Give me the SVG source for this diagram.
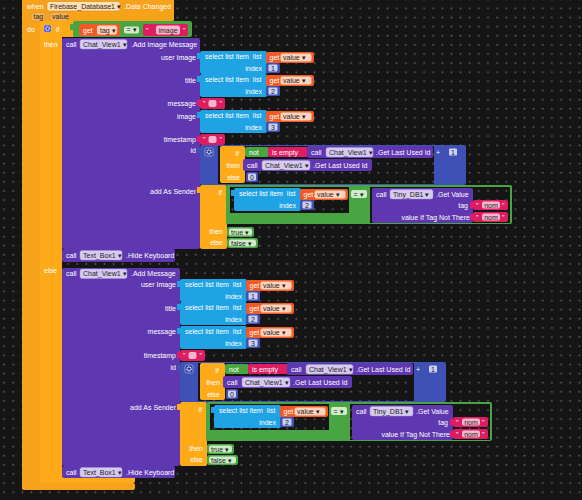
<svg xmlns="http://www.w3.org/2000/svg" width="582" height="500" viewBox="0 0 582 500">
<style>
.t{font-family:"Liberation Sans",Arial,sans-serif;font-size:7px;fill:#fff;white-space:pre}
.dk{fill:#1e1e1e}
.e{text-anchor:end}
.m{text-anchor:middle}
.ev{fill:#F7A21B}
.ctl{fill:#FFAB19}
.pr{fill:#5F37B0}
.ls{fill:#1FA3E4}
.gv{fill:#F15A24}
.nb{fill:#3F51B5}
.tx{fill:#DC1D62}
.lg{fill:#49A541}
.pl{fill:#D6CBEF;stroke:#A893D8;stroke-width:.5}
.pg{fill:#FFD3BF;stroke:#F79A70;stroke-width:.5}
.nl{fill:#CCD1F2}
.pt{fill:#F7B6CD}
.pgr{fill:#CFEBC9}
.po{fill:#FFE0B3;stroke:#C98312;stroke-width:.5}
.pp{fill:#F2B45A;stroke:#D98A10;stroke-width:.5}
</style>
<defs>
<pattern id="g0" width="9.13" height="9.13" patternUnits="userSpaceOnUse" x="0" y="4"><rect width="9.13" height="9.13" fill="#151515"/><circle cx="4.1" cy="4.3" r="0.9" fill="#636363"/></pattern>
<pattern id="gA" width="9.13" height="9.13" patternUnits="userSpaceOnUse" x="-200" y="-141"><rect width="9.13" height="9.13" fill="#151515"/><circle cx="4.1" cy="4.3" r="0.9" fill="#636363"/></pattern>
<pattern id="gB" width="9.13" height="9.13" patternUnits="userSpaceOnUse" x="-180" y="-358"><rect width="9.13" height="9.13" fill="#151515"/><circle cx="4.1" cy="4.3" r="0.9" fill="#636363"/></pattern>
<g id="sel">
<rect x="-3" y="2" width="4" height="6" class="ls"/>
<rect x="0" y="0" width="67" height="23" rx="2" class="ls"/>
<text class="t" x="5" y="8">select list item  list</text>
<text class="t e" x="62" y="19.5">index</text>
<rect x="66" y="1" width="48" height="11" rx="2" class="gv"/>
<text class="t" x="69.5" y="9">get</text>
<rect x="80.5" y="2.5" width="31" height="8" rx="2" class="pg"/>
<text class="t dk" x="83" y="9">value ▾</text>
<rect x="66" y="12" width="14" height="10" rx="1.5" class="nb"/>
<rect x="68.5" y="13.5" width="9" height="7" rx="1" class="nl"/>
</g>
<g id="txt">
<rect x="-3" y="2" width="4" height="6" class="tx"/>
<rect x="0" y="0" width="25" height="11" rx="2" class="tx"/>
<text class="t" x="3" y="8">"</text>
<rect x="8.5" y="2" width="8" height="7" rx="2" class="pt"/>
<text class="t" x="19.5" y="8">"</text>
</g>
<g id="nom">
<rect x="-3" y="2" width="4" height="6" class="tx"/>
<rect x="0" y="0" width="35" height="10" rx="2" class="tx"/>
<text class="t" x="3" y="7.5">"</text>
<rect x="9" y="1.5" width="18" height="7" rx="2" class="pt"/>
<text class="t dk m" x="18" y="7.5">nom</text>
<text class="t" x="29" y="7.5">"</text>
</g>
<g id="tf">
<rect x="27" y="82" width="27" height="10" rx="2" class="lg"/>
<rect x="29" y="83.5" width="23" height="7" rx="2" class="pgr"/>
<text class="t dk" x="31" y="89.5">true ▾</text>
<rect x="27" y="93" width="31" height="10" rx="2" class="lg"/>
<rect x="29" y="94.5" width="27" height="7" rx="2" class="pgr"/>
<text class="t dk" x="31" y="100.5">false ▾</text>
</g>
</defs>

<rect width="582" height="500" fill="url(#g0)"/>

<g id="event-data-changed">
<rect x="22" y="-4" width="152" height="26" rx="3" class="ev"/>
<rect x="22" y="0" width="18" height="489" class="ev"/>
<rect x="22" y="483" width="113" height="7" rx="2" class="ev"/>
<text class="t" x="27" y="8.5">when</text>
<rect x="47" y="1.5" width="73" height="9.5" rx="2" class="po"/>
<text class="t dk" x="50" y="8.5">Firebase_Database1 ▾</text>
<text class="t" x="124" y="8.5">.Data Changed</text>
<rect x="31" y="12.5" width="14" height="8.5" rx="2" class="pp"/>
<text class="t dk" x="33.5" y="19">tag</text>
<rect x="50" y="12.5" width="18" height="8.5" rx="2" class="pp"/>
<text class="t dk" x="52" y="19">value</text>
<text class="t" x="27" y="31.5">do</text>
</g>

<g id="if-else-main">
<rect x="40" y="21" width="35" height="16" rx="2" class="ctl"/>
<rect x="40" y="21" width="22" height="462" class="ctl"/>
<rect x="40" y="476" width="95" height="7" rx="2" class="ctl"/>
<rect x="44" y="25" width="7" height="7" rx="1.5" fill="#3B4CC0" stroke="#B3BCFF" stroke-width=".6"/>
<circle cx="47.5" cy="28.5" r="1.8" fill="none" stroke="#fff" stroke-width="1.2" stroke-dasharray="1 .5"/>
<text class="t" x="56" y="31.5">if</text>
<text class="t" x="44" y="46.5">then</text>
<text class="t" x="44" y="272.5">else</text>
</g>

<g id="compare-tag-image">
<rect x="70" y="24" width="4" height="6" class="lg"/>
<rect x="73" y="21" width="119" height="16" rx="2" class="lg"/>
<rect x="79" y="24" width="41" height="12" rx="2" class="gv"/>
<text class="t" x="83" y="32.5">get</text>
<rect x="97" y="25.5" width="20" height="9" rx="2" class="pg"/>
<text class="t dk" x="100" y="32.5">tag ▾</text>
<rect x="124" y="26.5" width="15" height="7" rx="2" class="pgr"/>
<text class="t dk" x="126.5" y="32">= ▾</text>
<rect x="143" y="24" width="45" height="12" rx="2" class="tx"/>
<text class="t" x="146" y="32.5">"</text>
<rect x="156" y="25.5" width="24" height="9" rx="2" class="pt"/>
<text class="t dk m" x="168" y="32.5">image</text>
<text class="t" x="183" y="32.5">"</text>
</g>

<g id="call-add-image-message">
<rect x="62" y="38" width="138" height="211" rx="2" class="pr"/>
<text class="t" x="66" y="46.5">call</text>
<rect x="80" y="39.5" width="47" height="9.5" rx="2" class="pl"/>
<text class="t dk" x="83" y="46.5">Chat_View1 ▾</text>
<text class="t" x="131" y="46.5">.Add Image Message</text>
<text class="t e" x="196" y="59.5">user Image</text>
<text class="t e" x="196" y="82.5">title</text>
<text class="t e" x="196" y="106">message</text>
<text class="t e" x="196" y="118.5">image</text>
<text class="t e" x="196" y="141.5">timestamp</text>
<text class="t e" x="196" y="153">id</text>
<text class="t e" x="196" y="194">add As Sender</text>
<use href="#sel" x="200" y="51"/>
<text class="t dk m" x="273" y="70.5">1</text>
<use href="#sel" x="200" y="74"/>
<text class="t dk m" x="273" y="93.5">2</text>
<use href="#txt" x="200" y="98"/>
<use href="#sel" x="200" y="110"/>
<text class="t dk m" x="273" y="129.5">3</text>
<use href="#txt" x="200" y="134"/>
</g>

<g id="id-and-sender-1" transform="translate(200,145)">
<rect x="-3" y="3" width="4" height="6" class="nb"/>
<rect x="0" y="0" width="266" height="40" rx="2" class="nb"/>
<rect x="18" y="1" width="216" height="38" fill="url(#gA)"/>
<rect x="5" y="3" width="8" height="8" rx="1.5" fill="#2E3D9C" stroke="#A9B4FF" stroke-width=".7"/>
<circle cx="9" cy="7" r="2" fill="none" stroke="#fff" stroke-width="1.3" stroke-dasharray="1 .57"/>
<rect x="20" y="1" width="25" height="37" rx="2" class="ctl"/>
<text class="t e" x="39" y="10.5">if</text>
<text class="t e" x="40" y="22.5">then</text>
<text class="t e" x="40" y="34.5">else</text>
<rect x="45" y="2" width="24" height="10" rx="2" class="lg"/>
<text class="t" x="49" y="9.5">not</text>
<rect x="68" y="2" width="40" height="10" rx="2" class="tx"/>
<text class="t" x="72" y="9.5">is empty</text>
<rect x="107" y="1" width="126" height="12" rx="2" class="pr"/>
<text class="t" x="111" y="9.5">call</text>
<rect x="126" y="2.5" width="47" height="9.5" rx="2" class="pl"/>
<text class="t dk" x="129" y="9.5">Chat_View1 ▾</text>
<text class="t" x="176" y="9.5">.Get Last Used Id</text>
<text class="t m" x="238" y="9.5">+</text>
<rect x="247" y="2" width="12" height="10" rx="1.5" class="nb"/>
<rect x="249" y="3.5" width="8" height="7" rx="1" class="nl"/>
<text class="t dk m" x="253" y="9.5">1</text>
<rect x="43" y="14" width="129" height="12" rx="2" class="pr"/>
<text class="t" x="47" y="22.5">call</text>
<rect x="62" y="15.5" width="48" height="9.5" rx="2" class="pl"/>
<text class="t dk" x="65" y="22.5">Chat_View1 ▾</text>
<text class="t" x="113" y="22.5">.Get Last Used Id</text>
<rect x="46" y="27" width="12" height="10" rx="1.5" class="nb"/>
<rect x="48" y="28.5" width="8" height="7" rx="1" class="nl"/>
<text class="t dk m" x="52" y="34.5">0</text>
<rect x="-3" y="42" width="4" height="6" class="ctl"/>
<rect x="0" y="40" width="27" height="64" rx="2" class="ctl"/>
<text class="t e" x="22" y="49.5">if</text>
<text class="t e" x="23" y="88.5">then</text>
<text class="t e" x="23" y="99.5">else</text>
<rect x="26" y="40" width="286" height="39" rx="2" class="lg"/>
<rect x="30" y="42" width="119" height="26" fill="url(#gA)"/>
<use href="#sel" x="34" y="43"/>
<text class="t dk m" x="107" y="62.5">2</text>
<rect x="151" y="45" width="16" height="8" rx="2" class="pgr"/>
<text class="t dk" x="153.5" y="51.5">= ▾</text>
<rect x="170" y="42" width="140" height="36" fill="url(#gA)"/>
<rect x="172" y="43" width="101" height="35" rx="2" class="pr"/>
<text class="t" x="176" y="51.5">call</text>
<rect x="190" y="44.5" width="43" height="9.5" rx="2" class="pl"/>
<text class="t dk" x="193" y="51.5">Tiny_DB1 ▾</text>
<text class="t" x="236" y="51.5">.Get Value</text>
<text class="t e" x="268" y="62.5">tag</text>
<text class="t e" x="270" y="74.5">value If Tag Not There</text>
<use href="#nom" x="273" y="55"/>
<use href="#nom" x="273" y="67"/>
<use href="#tf"/>
</g>

<g id="call-hide-keyboard-1">
<rect x="62" y="249" width="113" height="13" rx="2" class="pr"/>
<text class="t" x="66" y="258">call</text>
<rect x="80" y="250.5" width="42" height="9.5" rx="2" class="pl"/>
<text class="t dk" x="83" y="257.5">Text_Box1 ▾</text>
<text class="t" x="126" y="258">.Hide Keyboard</text>
</g>

<g id="call-add-message">
<rect x="62" y="268" width="118" height="198" rx="2" class="pr"/>
<text class="t" x="66" y="276">call</text>
<rect x="80" y="269" width="47" height="9.5" rx="2" class="pl"/>
<text class="t dk" x="83" y="276">Chat_View1 ▾</text>
<text class="t" x="131" y="276">.Add Message</text>
<text class="t e" x="176" y="287">user Image</text>
<text class="t e" x="176" y="310.5">title</text>
<text class="t e" x="176" y="334">message</text>
<text class="t e" x="176" y="358">timestamp</text>
<text class="t e" x="176" y="369.5">id</text>
<text class="t e" x="176" y="410">add As Sender</text>
<use href="#sel" x="180" y="279"/>
<text class="t dk m" x="253" y="298.5">1</text>
<use href="#sel" x="180" y="302"/>
<text class="t dk m" x="253" y="321.5">2</text>
<use href="#sel" x="180" y="326"/>
<text class="t dk m" x="253" y="345.5">3</text>
<use href="#txt" x="180" y="350"/>
</g>

<g id="id-and-sender-2" transform="translate(180,362)">
<rect x="-3" y="3" width="4" height="6" class="nb"/>
<rect x="0" y="0" width="266" height="40" rx="2" class="nb"/>
<rect x="18" y="1" width="216" height="38" fill="url(#gB)"/>
<rect x="5" y="3" width="8" height="8" rx="1.5" fill="#2E3D9C" stroke="#A9B4FF" stroke-width=".7"/>
<circle cx="9" cy="7" r="2" fill="none" stroke="#fff" stroke-width="1.3" stroke-dasharray="1 .57"/>
<rect x="20" y="1" width="25" height="37" rx="2" class="ctl"/>
<text class="t e" x="39" y="10.5">if</text>
<text class="t e" x="40" y="22.5">then</text>
<text class="t e" x="40" y="34.5">else</text>
<rect x="45" y="2" width="24" height="10" rx="2" class="lg"/>
<text class="t" x="49" y="9.5">not</text>
<rect x="68" y="2" width="40" height="10" rx="2" class="tx"/>
<text class="t" x="72" y="9.5">is empty</text>
<rect x="107" y="1" width="126" height="12" rx="2" class="pr"/>
<text class="t" x="111" y="9.5">call</text>
<rect x="126" y="2.5" width="47" height="9.5" rx="2" class="pl"/>
<text class="t dk" x="129" y="9.5">Chat_View1 ▾</text>
<text class="t" x="176" y="9.5">.Get Last Used Id</text>
<text class="t m" x="238" y="9.5">+</text>
<rect x="247" y="2" width="12" height="10" rx="1.5" class="nb"/>
<rect x="249" y="3.5" width="8" height="7" rx="1" class="nl"/>
<text class="t dk m" x="253" y="9.5">1</text>
<rect x="43" y="14" width="129" height="12" rx="2" class="pr"/>
<text class="t" x="47" y="22.5">call</text>
<rect x="62" y="15.5" width="48" height="9.5" rx="2" class="pl"/>
<text class="t dk" x="65" y="22.5">Chat_View1 ▾</text>
<text class="t" x="113" y="22.5">.Get Last Used Id</text>
<rect x="46" y="27" width="12" height="10" rx="1.5" class="nb"/>
<rect x="48" y="28.5" width="8" height="7" rx="1" class="nl"/>
<text class="t dk m" x="52" y="34.5">0</text>
<rect x="-3" y="42" width="4" height="6" class="ctl"/>
<rect x="0" y="40" width="27" height="64" rx="2" class="ctl"/>
<text class="t e" x="22" y="49.5">if</text>
<text class="t e" x="23" y="88.5">then</text>
<text class="t e" x="23" y="99.5">else</text>
<rect x="26" y="40" width="286" height="39" rx="2" class="lg"/>
<rect x="30" y="42" width="119" height="26" fill="url(#gB)"/>
<use href="#sel" x="34" y="43"/>
<text class="t dk m" x="107" y="62.5">2</text>
<rect x="151" y="45" width="16" height="8" rx="2" class="pgr"/>
<text class="t dk" x="153.5" y="51.5">= ▾</text>
<rect x="170" y="42" width="140" height="36" fill="url(#gB)"/>
<rect x="172" y="43" width="101" height="35" rx="2" class="pr"/>
<text class="t" x="176" y="51.5">call</text>
<rect x="190" y="44.5" width="43" height="9.5" rx="2" class="pl"/>
<text class="t dk" x="193" y="51.5">Tiny_DB1 ▾</text>
<text class="t" x="236" y="51.5">.Get Value</text>
<text class="t e" x="268" y="62.5">tag</text>
<text class="t e" x="270" y="74.5">value If Tag Not There</text>
<use href="#nom" x="273" y="55"/>
<use href="#nom" x="273" y="67"/>
<use href="#tf"/>
</g>

<g id="call-hide-keyboard-2">
<rect x="62" y="466" width="113" height="12" rx="2" class="pr"/>
<text class="t" x="66" y="474.5">call</text>
<rect x="80" y="467.5" width="42" height="9.5" rx="2" class="pl"/>
<text class="t dk" x="83" y="474.5">Text_Box1 ▾</text>
<text class="t" x="126" y="474.5">.Hide Keyboard</text>
</g>

<g id="connectors"></g>
</svg>
